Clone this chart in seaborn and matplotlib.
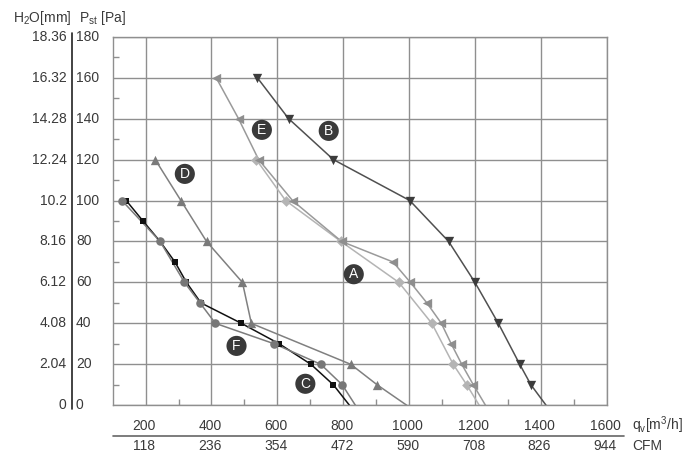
import numpy as np
import pandas as pd
import matplotlib.pyplot as plt
import seaborn as sns
from matplotlib.lines import Line2D

# fan curves: airflow qv [m3/h] vs static pressure [Pa]
# last point of each list is where the line meets the x axis (no marker there)
a_x = [536, 625, 793, 969, 1069, 1134, 1175, 1213]
a_y = [120, 100, 80, 60, 40, 20, 10, 0]

b_x = [539, 634, 770, 1002, 1120, 1200, 1271, 1336, 1370, 1416]
b_y = [160, 140, 120, 100, 80, 60, 40, 20, 10, 0]

c_x = [141, 192, 244, 289, 324, 368, 491, 606, 702, 770, 819]
c_y = [100, 90, 80, 70, 60, 50, 40, 30, 20, 10, 0]

d_x = [229, 307, 385, 494, 521, 823, 903, 993]
d_y = [120, 100, 80, 60, 40, 20, 10, 0]

e_x = [414, 482, 543, 646, 795, 951, 1004, 1054, 1098, 1128, 1160, 1195, 1232]
e_y = [160, 140, 120, 100, 80, 70, 60, 50, 40, 30, 20, 10, 0]

f_x = [128, 244, 318, 365, 412, 591, 732, 797, 837]
f_y = [100, 80, 60, 50, 40, 30, 20, 10, 0]

# curve name badges (position in data units)
badge_names = ['A', 'B', 'C', 'D', 'E', 'F']
badge_x = [832, 756, 685, 319, 553, 476]
badge_y = [64, 134, 10.5, 113, 134.5, 29]

# axis labels
pa_ticks = [0, 20, 40, 60, 80, 100, 120, 140, 160, 180]
h2o_labels = ['0', '2.04', '4.08', '6.12', '8.16', '10.2', '12.24', '14.28', '16.32', '18.36']
qv_ticks = [200, 400, 600, 800, 1000, 1200, 1400, 1600]
cfm_labels = ['118', '236', '354', '472', '590', '708', '826', '944']

sns.set_style('white')
plt.rcParams['font.family'] = ['Liberation Sans', 'DejaVu Sans']
plt.rcParams['mathtext.fontset'] = 'custom'
plt.rcParams['mathtext.rm'] = 'Liberation Sans'
plt.rcParams['mathtext.it'] = 'Liberation Sans'

txt = '#3a3a3a'
grid_c = '#8f8f8f'

fig = plt.figure(figsize=(7, 4.68), dpi=100)
ax = fig.add_axes([0.161, 0.134, 0.7057, 0.7876])

curves = [
    (a_x, a_y, 'D', '#b4b4b4', '#b4b4b4', 30),
    (e_x, e_y, '<', '#9a9a9a', '#8e8e8e', 45),
    (b_x, b_y, 'v', '#505050', '#3c3c3c', 45),
    (d_x, d_y, '^', '#808080', '#7a7a7a', 45),
    (c_x, c_y, 's', '#111111', '#111111', 22),
    (f_x, f_y, 'o', '#7c7c7c', '#777777', 38),
]
for xs, ys, m, lc, mc, s in curves:
    sns.lineplot(x=xs, y=ys, color=lc, lw=1.1, sort=False, estimator=None, ax=ax)
    sns.scatterplot(x=xs[:-1], y=ys[:-1], marker=m, s=s, color=mc,
                    linewidth=0, ax=ax, zorder=4)

ax.set_xlim(100, 1600)
ax.set_ylim(0, 180)
ax.set_xticks(qv_ticks)
ax.set_yticks(pa_ticks)
ax.set_xticks(range(300, 1600, 200), minor=True)
ax.set_yticks(range(10, 180, 20), minor=True)
ax.set_xticklabels([])
ax.set_yticklabels([])
ax.tick_params(which='major', length=0)
ax.tick_params(which='minor', direction='in', length=4, width=1, color=grid_c,
               bottom=True, left=True)
ax.grid(True, which='major', color=grid_c, lw=1)
ax.set_axisbelow(True)
for sp in ax.spines.values():
    sp.set_color(grid_c)
    sp.set_linewidth(1)

# left double scale: mm H2O and Pa
ytr = ax.get_yaxis_transform()
for v, h in zip(pa_ticks, h2o_labels):
    ax.text(-0.0743, v, str(v), transform=ytr, ha='left', va='center',
            fontsize=10, color=txt)
    ax.text(-0.0931, v, h, transform=ytr, ha='right', va='center',
            fontsize=10, color=txt)
ax.add_line(Line2D([-0.083, -0.083], [-0.010, 1.010], transform=ax.transAxes,
                   color='#222222', lw=1.2, clip_on=False))
fig.text(13 / 700, 1 - 18 / 468, 'H$_2$O[mm]', ha='left', va='center',
         fontsize=10, color=txt)
fig.text(79 / 700, 1 - 18 / 468, 'P$_{st}$ [Pa]', ha='left', va='center',
         fontsize=10, color=txt)

# bottom double scale: m3/h and CFM
xtr = ax.get_xaxis_transform()
for v, c in zip(qv_ticks, cfm_labels):
    ax.text(v - 4, -0.0553, str(v), transform=xtr, ha='center', va='center',
            fontsize=10, color=txt)
    ax.text(v - 4, -0.1096, c, transform=xtr, ha='center', va='center',
            fontsize=10, color=txt)
ax.add_line(Line2D([0, 1.035], [-0.082, -0.082], transform=ax.transAxes,
                   color='#666666', lw=1.2, clip_on=False))
ax.text(1.051, -0.0553, 'q$_v$[m$^3$/h]', transform=ax.transAxes, ha='left',
        va='center', fontsize=10, color=txt)
ax.text(1.051, -0.1096, 'CFM', transform=ax.transAxes, ha='left',
        va='center', fontsize=10, color=txt)

for n, bx, by in zip(badge_names, badge_x, badge_y):
    ax.text(bx, by, n, ha='center', va='center', fontsize=10, color='white',
            zorder=6, bbox=dict(boxstyle='circle,pad=0.22', fc='#3a3a3a', ec='none'))

fig.savefig('out.png', dpi=100)
